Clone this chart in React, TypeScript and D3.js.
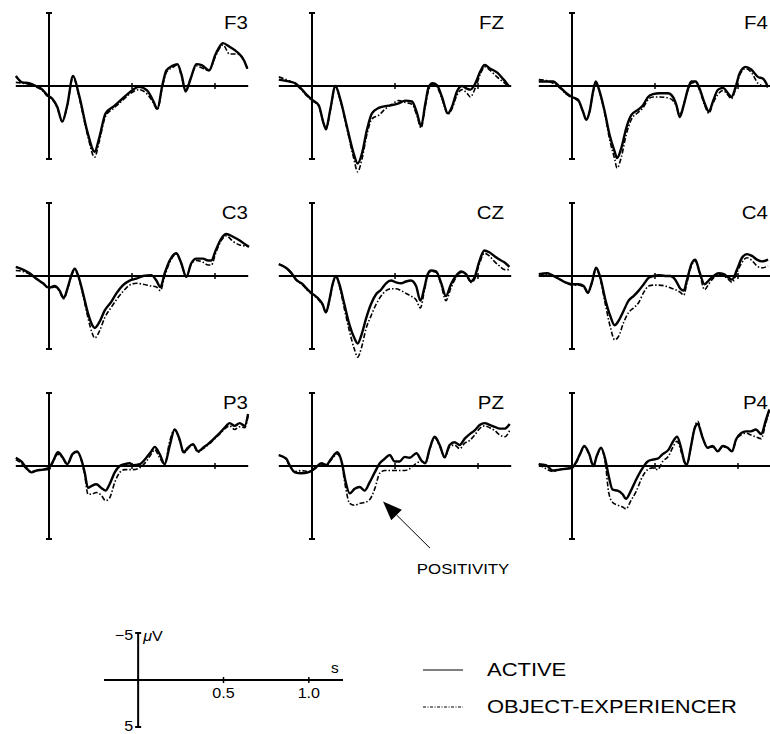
import React from "react";
import * as d3 from "d3";

const W = 770;
const H = 734;
const FONT = "'Liberation Sans', Arial, Helvetica, sans-serif";

// time (ms) and amplitude (µV, negative plotted up) per electrode
const F3_T = [-200, -161, -120, -80, -40, -10, 20, 50, 80, 110, 145, 181, 231, 275, 301, 341, 392, 442, 492, 542, 592, 627, 653, 683, 707, 743, 773, 799, 823, 853, 888, 920, 964, 1004, 1048, 1088, 1135, 1175, 1195];
const F3_ACTIVE = [-1.1, -0.4, -0.3, 0, 0.4, 1.0, 1.4, 2.3, 3.9, 2.1, -1.1, 1.0, 5.0, 7.2, 5.8, 3.0, 2.2, 1.4, 0.6, 0.1, 0.5, 1.6, 2.5, -0.1, -1.7, -2.2, -2.4, -1.2, 0.6, -0.8, -2.4, -2.3, -1.7, -3.5, -4.7, -4.3, -3.7, -2.8, -1.9];
const F3_OBJ = [-0.4, -0.3, -0.2, 0.1, 0.5, 1.1, 1.5, 2.4, 3.9, 2.2, -1.0, 1.2, 5.3, 7.8, 6.2, 3.3, 2.4, 1.6, 0.8, 0.4, 0.9, 1.8, 2.6, 0.1, -1.5, -2.0, -2.3, -1.0, 0.5, -0.8, -2.2, -2.0, -1.7, -3.3, -4.5, -3.5, -3.5, -2.8, -1.9];

const FZ_T = [-200, -141, -100, -60, -30, 0, 40, 70, 84, 110, 141, 171, 211, 251, 275, 301, 331, 361, 402, 442, 482, 522, 562, 602, 633, 657, 683, 703, 727, 753, 783, 819, 843, 873, 904, 934, 954, 984, 1014, 1040, 1074, 1114, 1155, 1185];
const FZ_ACTIVE = [-0.7, -0.5, -0.3, 0.4, 1.0, 1.5, 2.1, 4.1, 4.7, 2.6, 0, 1.5, 4.5, 7.4, 8.5, 7.4, 4.8, 3.0, 2.4, 2.2, 2.1, 1.9, 1.6, 1.7, 3.0, 4.4, 1.9, 0.1, -0.3, -0.1, 1.2, 3.0, 2.3, 0.6, 0, 0.3, 0.4, -0.3, -1.6, -2.3, -1.9, -1.5, -0.7, 0];
const FZ_OBJ = [-1.0, -0.6, -0.2, 0.5, 1.1, 1.6, 2.2, 4.1, 4.8, 2.7, 0.1, 1.6, 4.7, 7.9, 9.4, 8.0, 5.3, 3.6, 3.2, 2.5, 2.0, 1.6, 1.8, 2.0, 3.3, 4.6, 2.2, 0.4, -0.2, 0.1, 1.4, 3.1, 2.5, 1.0, 0.4, 0.8, 1.2, 0.2, -1.3, -2.1, -1.7, -1.0, -0.4, 0.1];

const F4_T = [-200, -155, -114, -74, -34, 0, 36, 66, 86, 106, 127, 143, 163, 197, 227, 257, 271, 297, 327, 357, 398, 428, 458, 488, 528, 578, 608, 629, 649, 673, 699, 719, 745, 769, 799, 825, 849, 880, 910, 940, 960, 986, 1010, 1046, 1080, 1120, 1151, 1181];
const F4_ACTIVE = [-0.5, -0.5, -0.5, 0.1, 0.8, 1.2, 1.5, 2.8, 3.7, 2.8, 0.6, -0.5, 0.4, 2.8, 5.4, 7.2, 7.9, 6.8, 4.6, 3.2, 2.6, 2.1, 1.2, 0.9, 0.8, 0.8, 1.2, 2.1, 3.4, 2.1, 0.3, -0.5, -0.5, 0.3, 1.9, 2.8, 1.7, 0.4, 0.2, 0.8, 1.2, 0.1, -1.4, -2.1, -1.8, -1.0, -0.8, 0.1];
const F4_OBJ = [-0.7, -0.6, -0.3, 0.2, 0.9, 1.3, 1.6, 2.8, 3.7, 2.8, 0.7, -0.4, 0.5, 3.0, 5.9, 8.0, 9.0, 7.8, 5.3, 3.7, 2.9, 2.4, 1.5, 1.2, 1.2, 1.3, 1.6, 2.2, 3.2, 2.0, 0.4, -0.3, -0.4, 0.5, 2.1, 3.0, 1.9, 0.9, 0.5, 1.0, 1.4, 0.3, -1.2, -1.9, -1.5, -0.3, 0.0, 0.1];

const C3_T = [-200, -157, -116, -76, -36, 0, 34, 64, 88, 114, 135, 155, 175, 205, 235, 261, 275, 305, 335, 376, 406, 446, 486, 526, 566, 616, 647, 671, 697, 727, 767, 797, 827, 857, 888, 928, 958, 978, 1004, 1038, 1068, 1108, 1149, 1179, 1205];
const C3_ACTIVE = [-1.0, -0.7, -0.3, 0.3, 0.8, 1.3, 1.1, 1.6, 2.4, 1.2, -0.1, -0.8, -0.1, 1.9, 4.1, 5.4, 5.7, 5.0, 3.8, 2.8, 1.9, 1.0, 0.5, 0.3, 0.0, -0.1, 0.5, 1.2, -0.3, -1.7, -2.5, -1.4, 0.1, -1.4, -1.9, -1.9, -1.7, -1.7, -2.8, -4.1, -4.6, -4.3, -3.9, -3.5, -3.2];
const C3_OBJ = [-0.6, -0.5, -0.2, 0.3, 0.8, 1.4, 1.2, 1.7, 2.5, 1.3, 0.0, -0.7, 0.0, 2.1, 4.6, 6.3, 6.8, 6.0, 4.6, 3.4, 2.6, 1.7, 1.0, 0.8, 0.9, 1.1, 1.2, 1.6, 0.0, -1.5, -2.4, -1.3, 0.1, -1.3, -1.7, -1.5, -1.2, -1.2, -2.5, -3.9, -4.4, -3.8, -3.4, -3.3, -3.2];

const CZ_T = [-200, -157, -127, -96, -56, -26, 0, 34, 64, 84, 104, 124, 145, 165, 195, 225, 255, 275, 299, 325, 355, 386, 416, 446, 476, 506, 536, 566, 596, 627, 653, 677, 697, 717, 747, 777, 807, 837, 867, 898, 928, 958, 978, 1008, 1038, 1068, 1098, 1129, 1159, 1189];
const CZ_ACTIVE = [-1.3, -0.9, -0.4, 0.4, 0.9, 1.5, 1.9, 2.4, 3.1, 4.0, 2.7, 0.9, 0.0, 0.9, 3.1, 5.3, 6.8, 7.4, 6.4, 4.7, 3.1, 2.0, 1.5, 0.8, 0.5, 0.7, 0.8, 0.6, 0.5, 1.1, 2.7, 1.3, -0.2, -0.6, -0.5, 0.7, 2.2, 0.9, 0.0, -0.5, -0.2, 0.6, 0.2, -1.6, -2.8, -2.6, -2.2, -1.8, -1.5, -1.0];
const CZ_OBJ = [-1.3, -0.9, -0.3, 0.4, 1.0, 1.6, 2.0, 2.5, 3.2, 4.0, 2.8, 1.0, 0.1, 1.1, 3.6, 6.0, 8.0, 8.9, 7.8, 5.8, 4.4, 3.1, 2.2, 1.6, 1.4, 1.4, 1.6, 1.9, 2.2, 2.6, 3.5, 1.6, 0.0, -0.5, -0.4, 0.9, 2.7, 1.3, 0.2, -0.4, -0.2, 0.7, 0.4, -1.3, -2.5, -2.2, -1.6, -1.1, -0.7, -0.7];

const C4_T = [-200, -151, -120, -80, -40, 0, 40, 70, 96, 120, 145, 171, 201, 231, 257, 281, 311, 341, 371, 402, 432, 462, 492, 522, 562, 592, 622, 653, 673, 693, 719, 743, 767, 799, 823, 853, 884, 914, 944, 964, 994, 1024, 1054, 1084, 1114, 1145, 1181];
const C4_ACTIVE = [-0.2, -0.3, -0.1, 0.3, 0.7, 0.9, 0.9, 1.1, 1.8, 0.7, -0.9, 0.2, 2.6, 4.4, 5.4, 4.9, 3.8, 2.7, 2.2, 1.6, 0.9, 0.2, 0.0, -0.1, 0.0, 0.0, 0.4, 1.4, 1.6, 0.4, -1.3, -1.8, -0.5, 0.9, 0.5, 0.0, -0.3, -0.2, 0.2, 0.4, -0.7, -2.0, -2.4, -2.2, -1.8, -1.6, -1.8];
const C4_OBJ = [0.0, -0.2, 0.0, 0.3, 0.7, 1.0, 1.0, 1.2, 1.9, 0.8, -0.8, 0.4, 3.1, 5.6, 7.0, 6.6, 5.1, 4.0, 3.5, 2.9, 1.8, 1.1, 1.0, 1.0, 1.1, 1.3, 1.5, 1.8, 2.1, 0.7, -1.1, -1.6, -0.4, 1.5, 0.9, 0.2, -0.2, 0.0, 0.4, 0.7, -0.4, -1.5, -2.0, -1.7, -1.1, -0.9, -1.1];

const P3_T = [-200, -167, -137, -106, -76, -36, 0, 24, 54, 84, 110, 141, 169, 195, 215, 235, 255, 285, 315, 341, 365, 396, 426, 456, 486, 506, 546, 586, 616, 637, 667, 697, 727, 757, 787, 811, 837, 867, 898, 928, 958, 988, 1028, 1068, 1088, 1118, 1149, 1179, 1199];
const P3_ACTIVE = [-0.9, -0.5, 0.2, 0.7, 0.5, 0.4, 0.2, -0.5, -1.5, -0.9, -0.2, -1.3, -1.6, -0.7, 0.7, 2.4, 2.2, 2.0, 2.4, 2.7, 2.0, 0.7, 0.0, -0.2, -0.3, -0.1, -0.2, -0.9, -1.6, -2.1, -1.3, -0.2, -2.2, -4.0, -2.9, -1.5, -2.0, -2.4, -1.6, -2.0, -2.4, -2.9, -3.6, -4.4, -4.7, -4.4, -4.7, -4.4, -5.7];
const P3_OBJ = [-0.7, -0.3, 0.3, 0.6, 0.5, 0.4, 0.4, -0.4, -1.3, -0.8, -0.1, -1.2, -1.5, -0.6, 1.0, 3.1, 3.1, 2.9, 3.2, 3.8, 3.5, 1.8, 0.7, 0.4, 0.4, 0.4, 0.2, -0.5, -1.3, -1.8, -0.9, -0.2, -2.7, -4.0, -2.8, -1.4, -1.9, -2.3, -1.5, -1.9, -2.3, -2.8, -3.5, -4.2, -4.4, -4.0, -4.3, -4.2, -5.5];

const PZ_T = [-200, -155, -135, -104, -64, -24, 0, 26, 56, 86, 116, 153, 181, 201, 227, 257, 287, 317, 347, 378, 408, 438, 468, 498, 528, 558, 588, 629, 659, 683, 709, 739, 769, 799, 829, 859, 890, 920, 950, 980, 1010, 1040, 1070, 1100, 1131, 1161, 1191];
const PZ_ACTIVE = [-1.2, -0.8, -0.1, 0.7, 0.8, 0.7, 0.5, 0.1, -0.3, -0.1, -0.8, -1.5, -0.3, 1.6, 3.0, 2.5, 2.3, 2.7, 1.8, 0.7, -0.3, -0.8, -1.2, -0.5, -0.5, -1.0, -0.9, -1.4, -0.6, -0.3, -1.9, -3.2, -2.3, -1.0, -2.3, -2.6, -2.3, -3.0, -3.5, -3.9, -4.5, -4.7, -4.5, -4.3, -4.1, -4.1, -4.6];
const PZ_OBJ = [-1.2, -0.7, 0.0, 0.6, 0.5, 0.6, 0.5, 0.2, -0.2, 0.0, -0.7, -1.3, -0.1, 2.2, 4.1, 4.3, 4.1, 4.0, 3.7, 2.5, 0.8, 0.5, 0.5, 0.5, 0.5, 0.5, 0.3, -0.3, -0.5, -0.3, -1.8, -3.1, -2.2, -0.9, -2.1, -2.3, -1.9, -2.5, -2.8, -3.4, -4.1, -4.4, -4.2, -3.9, -3.4, -3.2, -3.9];

const P4_T = [-200, -157, -116, -76, -36, 0, 24, 48, 74, 104, 129, 149, 175, 201, 221, 245, 275, 305, 325, 355, 386, 426, 456, 486, 516, 546, 582, 606, 633, 657, 677, 691, 717, 737, 757, 787, 817, 847, 878, 908, 938, 964, 988, 1018, 1048, 1078, 1108, 1139, 1169, 1189];
const P4_ACTIVE = [-0.2, -0.1, 0.5, 0.4, 0.3, 0.2, -0.4, -1.3, -2.2, -1.3, 0.0, -1.1, -2.0, -0.7, 1.1, 2.6, 2.7, 3.1, 3.6, 2.7, 1.5, 0.2, -0.5, -0.7, -0.8, -1.3, -1.8, -2.6, -3.2, -2.0, -0.5, -0.1, -2.2, -4.0, -4.6, -3.1, -2.0, -2.2, -1.6, -2.2, -2.0, -1.6, -2.9, -3.6, -3.8, -3.8, -4.0, -3.5, -5.1, -6.2];
const P4_OBJ = [-0.2, 0.3, 0.6, 0.4, 0.3, 0.2, -0.3, -1.2, -2.1, -1.2, 0.1, -1.0, -1.9, -0.3, 2.9, 4.0, 4.3, 4.5, 4.7, 3.8, 2.8, 1.1, 0.4, 0.2, 0.4, -0.5, -1.1, -2.0, -2.7, -1.6, -0.4, -0.1, -2.1, -4.1, -4.9, -3.1, -2.0, -2.1, -1.6, -2.1, -2.0, -1.6, -2.8, -3.4, -3.6, -3.4, -3.2, -3.0, -4.8, -6.0];

const CHANNELS = [
  { name: "F3", t: F3_T, active: F3_ACTIVE, obj: F3_OBJ, col: 0, row: 0 },
  { name: "FZ", t: FZ_T, active: FZ_ACTIVE, obj: FZ_OBJ, col: 1, row: 0 },
  { name: "F4", t: F4_T, active: F4_ACTIVE, obj: F4_OBJ, col: 2, row: 0 },
  { name: "C3", t: C3_T, active: C3_ACTIVE, obj: C3_OBJ, col: 0, row: 1 },
  { name: "CZ", t: CZ_T, active: CZ_ACTIVE, obj: CZ_OBJ, col: 1, row: 1 },
  { name: "C4", t: C4_T, active: C4_ACTIVE, obj: C4_OBJ, col: 2, row: 1 },
  { name: "P3", t: P3_T, active: P3_ACTIVE, obj: P3_OBJ, col: 0, row: 2 },
  { name: "PZ", t: PZ_T, active: PZ_ACTIVE, obj: PZ_OBJ, col: 1, row: 2 },
  { name: "P4", t: P4_T, active: P4_ACTIVE, obj: P4_OBJ, col: 2, row: 2 },
];

const TIME_DOMAIN = [-200, 1200];
const TIME_TICKS = [500, 1000];
const SCALE_TICKS = [
  { t: 500, label: "0.5" },
  { t: 1000, label: "1.0" },
];
const LEGEND = [
  { label: "ACTIVE", dash: "none" },
  { label: "OBJECT-EXPERIENCER", dash: "3,1.5,1,1.5" },
];

// layout
const COL_X = [49, 312, 572];
const ROW_Y = [86, 276, 466];
const LABEL_X = [248, 504, 768];
const PX_PER_MS = 0.166;
const HALF = 73;
const DASH = "5,2,1.5,2";

// annotation in PZ coordinates (ms, µV)
const ARROW_TIP = [428, 3.9];
const ARROW_TAIL = [711, 9.0];
const NOTE_POS = [910, 11.8];

function SText({ x, y, size, anchor = "start", sx = 1.2, children }: any) {
  return (
    <text
      transform={`translate(${x},${y}) scale(${sx},1)`}
      fontSize={size}
      textAnchor={anchor}
      fontFamily={FONT}
      fill="#000"
    >
      {children}
    </text>
  );
}

function panelScales(col: number, row: number) {
  const x0 = COL_X[col];
  const y0 = ROW_Y[row];
  const x = d3
    .scaleLinear()
    .domain(TIME_DOMAIN)
    .range([x0 + TIME_DOMAIN[0] * PX_PER_MS, x0 + TIME_DOMAIN[1] * PX_PER_MS]);
  const y = d3.scaleLinear().domain([-8, 8]).range([y0 - HALF, y0 + HALF]);
  return { x, y };
}

function Panel({ ch }: any) {
  const { x, y } = panelScales(ch.col, ch.row);
  const path = (vals: number[]) =>
    d3
      .line<number>()
      .x((_, i) => x(ch.t[i]))
      .y((v) => y(v))
      .curve(d3.curveMonotoneX)(vals) || "";

  return (
    <g>
      <line x1={x(TIME_DOMAIN[0])} x2={x(TIME_DOMAIN[1])} y1={y(0)} y2={y(0)} stroke="#000" strokeWidth={2} />
      {TIME_TICKS.map((t) => (
        <line key={t} x1={x(t)} x2={x(t)} y1={y(0) - 3} y2={y(0) + 3} stroke="#000" strokeWidth={1.5} />
      ))}
      <line x1={x(0)} x2={x(0)} y1={y(-8)} y2={y(8)} stroke="#000" strokeWidth={2} />
      <line x1={x(0) - 3} x2={x(0) + 3} y1={y(-8)} y2={y(-8)} stroke="#000" strokeWidth={2} />
      <line x1={x(0) - 3} x2={x(0) + 3} y1={y(8)} y2={y(8)} stroke="#000" strokeWidth={2} />
      <path d={path(ch.obj)} fill="none" stroke="#000" strokeWidth={1.6} strokeDasharray={DASH} />
      <path d={path(ch.active)} fill="none" stroke="#000" strokeWidth={2.4} strokeLinejoin="round" />
      <SText x={LABEL_X[ch.col]} y={ROW_Y[ch.row] - 57} size={17.5} anchor="end" sx={1.17}>
        {ch.name}
      </SText>
    </g>
  );
}

function Annotation() {
  const { x, y } = panelScales(1, 2);
  const tip = [x(ARROW_TIP[0]), y(ARROW_TIP[1])];
  const tail = [x(ARROW_TAIL[0]), y(ARROW_TAIL[1])];
  const ang = Math.atan2(tail[1] - tip[1], tail[0] - tip[0]);
  const len = 19;
  const hw = 7.5;
  const bx = tip[0] + len * Math.cos(ang);
  const by = tip[1] + len * Math.sin(ang);
  const px = -Math.sin(ang) * hw;
  const py = Math.cos(ang) * hw;
  return (
    <g>
      <line x1={bx} y1={by} x2={tail[0]} y2={tail[1]} stroke="#000" strokeWidth={1} />
      <polygon points={`${tip[0]},${tip[1]} ${bx + px},${by + py} ${bx - px},${by - py}`} fill="#000" />
      <SText x={x(NOTE_POS[0])} y={y(NOTE_POS[1])} size={14.5} anchor="middle" sx={1.16}>
        POSITIVITY
      </SText>
    </g>
  );
}

function ScaleBar() {
  const x = d3.scaleLinear().domain(TIME_DOMAIN).range([104, 343]);
  const y = d3.scaleLinear().domain([-5, 5]).range([633, 727]);
  return (
    <g>
      <line x1={x(TIME_DOMAIN[0])} x2={x(TIME_DOMAIN[1])} y1={y(0)} y2={y(0)} stroke="#000" strokeWidth={2} />
      {SCALE_TICKS.map((d) => (
        <g key={d.t}>
          <line x1={x(d.t)} x2={x(d.t)} y1={y(0) - 3} y2={y(0) + 3} stroke="#000" strokeWidth={1.5} />
          <SText x={x(d.t)} y={y(0) + 18} size={14} anchor="middle" sx={1.15}>
            {d.label}
          </SText>
        </g>
      ))}
      <line x1={x(0)} x2={x(0)} y1={y(-5)} y2={y(5)} stroke="#000" strokeWidth={2} />
      <line x1={x(0) - 3} x2={x(0) + 3} y1={y(-5)} y2={y(-5)} stroke="#000" strokeWidth={2} />
      <line x1={x(0) - 3} x2={x(0) + 3} y1={y(5)} y2={y(5)} stroke="#000" strokeWidth={2} />
      <SText x={x(0) - 5} y={y(-5) + 7} size={14} anchor="end" sx={1.15}>
        −5
      </SText>
      <SText x={x(0) - 5} y={y(5) + 4} size={14} anchor="end" sx={1.15}>
        5
      </SText>
      <SText x={x(0) + 5} y={y(-5) + 8} size={14} sx={1.15}>
        <tspan fontStyle="italic">μ</tspan>V
      </SText>
      <SText x={x(1130)} y={y(0) - 7} size={14} sx={1.1}>
        s
      </SText>
    </g>
  );
}

function Legend() {
  const rows = [670, 707];
  return (
    <g>
      {LEGEND.map((d, i) => (
        <g key={d.label}>
          <line x1={423} x2={463} y1={rows[i]} y2={rows[i]} stroke="#000" strokeWidth={1} strokeDasharray={d.dash} />
          <SText x={487} y={rows[i] + 6} size={18} sx={1.22}>
            {d.label}
          </SText>
        </g>
      ))}
    </g>
  );
}

export default function App() {
  return (
    <svg
      width={W}
      height={H}
      viewBox={`0 0 ${W} ${H}`}
      style={{ position: "absolute", left: 0, top: 0, background: "#fff" }}
    >
      <rect width={W} height={H} fill="#fff" />
      {CHANNELS.map((ch) => (
        <Panel key={ch.name} ch={ch} />
      ))}
      <Annotation />
      <ScaleBar />
      <Legend />
    </svg>
  );
}
